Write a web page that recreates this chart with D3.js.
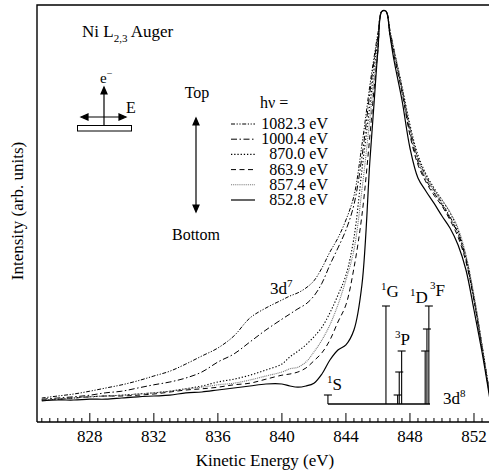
<!DOCTYPE html>
<html>
<head>
<meta charset="utf-8">
<script src="https://cdn.jsdelivr.net/npm/d3@7"></script>
<style>
body{margin:0;background:#fff;}
svg text{font-family:"Liberation Serif","Times New Roman",serif;fill:#000;}
</style>
</head>
<body>
<div id="chart"></div>
<script>
// kinetic energy grid (eV)
var energy = [825, 826, 827, 828, 829, 830, 831, 832, 833, 834, 835, 836, 837, 838, 839, 840,
  840.5, 841, 841.5, 842, 842.5, 843, 843.5, 844, 844.5, 845, 845.5, 845.75, 846, 846.25, 846.5, 846.75,
  847, 847.5, 848, 848.5, 849, 849.5, 850, 850.5, 851, 851.5, 852, 852.5, 853];

// intensity (arb. units), one array per photon energy
var hv1082 = [1.5, 2, 2.5, 3.2, 4, 4.8, 5.8, 7, 8.2, 10, 12, 14, 17, 21.5, 24, 26,
  27, 27.8, 29, 30.8, 34, 38, 41.5, 46, 52, 64.8, 79.8, 86.5, 92.8, 98.2, 98.2, 93.5,
  88.5, 79, 69, 61.5, 57, 53.5, 50.2, 46.8, 42.8, 36.5, 26.5, 14.5, 2];
var hv1000 = [1.2, 1.5, 1.8, 2.2, 2.8, 3.2, 4, 4.8, 5.5, 6.5, 8, 10.5, 12.5, 15.5, 18.5, 21.2,
  22.5, 23.8, 25, 27, 30.2, 34.8, 39, 43.5, 49.8, 61.8, 78, 85.5, 92, 98.2, 98.2, 93,
  88, 78.5, 68, 60.5, 56, 52.8, 49.8, 46.5, 42.5, 36, 26, 14.2, 1.8];
var hv870 = [1, 1.2, 1.5, 1.8, 2, 2.2, 2.5, 2.8, 3.2, 3.8, 4.5, 5.5, 6.2, 7.2, 8.5, 10,
  11.8, 13.2, 14.8, 16.8, 19.2, 22.8, 27.2, 32.2, 41.5, 58.5, 74.8, 83.5, 91, 98.2, 98.2, 92.8,
  88.5, 79.5, 69.8, 62.2, 57.5, 54, 51, 47.8, 43.5, 36.8, 26.8, 14.8, 2];
var hv863 = [1, 1.2, 1.5, 1.8, 2, 2, 2.2, 2.5, 3, 3.5, 3.8, 4.2, 4.8, 5.2, 6.2, 7.2,
  7.5, 8, 9, 10.8, 12.8, 16, 20.5, 24.8, 34, 47.2, 67.2, 78.5, 88.5, 98.2, 98.2, 92.2,
  87.2, 78, 67.2, 59.8, 55.5, 52.2, 49.5, 46, 41.8, 35.5, 26, 14, 1.5];
var hv857 = [1, 1.2, 1.5, 1.8, 2, 2.2, 2.5, 2.8, 3.2, 3.8, 4.2, 4.8, 5.2, 6, 7, 8,
  8.8, 9.2, 10.5, 13, 16, 19.8, 24.8, 31, 38.5, 53.5, 71.5, 81, 89.8, 98.2, 98.2, 92.5,
  88.5, 79, 69, 61, 56.5, 53.5, 51, 48, 44, 37.2, 27.2, 14.8, 2.2];
var hv852 = [0.8, 1, 1, 1.2, 1.2, 1.5, 1.8, 2, 2.2, 2.8, 3, 3.5, 4, 4.5, 5, 5,
  4.5, 4.2, 4.5, 5.2, 7.5, 11, 13.5, 14.8, 18.5, 29.8, 61, 74.8, 88.5, 98.2, 98.2, 92.2,
  86, 76, 64, 56.5, 53.2, 50.2, 47, 44, 39.8, 33.5, 23.5, 13, 1];

var seriesLabels = ["1082.3 eV", "1000.4 eV", "870.0 eV", "863.9 eV", "857.4 eV", "852.8 eV"];
var seriesValues = [hv1082, hv1000, hv870, hv863, hv857, hv852];
var xTicks = [828, 832, 836, 840, 844, 848, 852];

// 3d8 multiplet diagram: line energies and relative heights
var termEnergy = [842.875, 846.5, 847.23, 847.33, 847.48, 848.95, 849.06, 849.18];
var termHeight = [2.25, 24.5, 2.25, 8, 13.25, 13.25, 18.75, 24.5];
var termBase = [842.875, 849.25];
var termLabels = [
  {sup:"1", main:"S", e:842.81, v:3.5},
  {sup:"1", main:"G", e:846.19, v:26.8},
  {sup:"3", main:"P", e:847.06, v:14.8},
  {sup:"1", main:"D", e:848.0, v:25.3},
  {sup:"3", main:"F", e:849.25, v:27}
];

var width = 489, height = 473;
var mL = 37, mT = 5, mB = 422, mR = 490;
var styles = [
  {dash:"4,1.6,1.2,1.6,1.2,1.6", color:"#000", w:1},
  {dash:"6,2.5,1.5,2.5", color:"#000", w:1},
  {dash:"1.3,1.9", color:"#000", w:1.1},
  {dash:"5,3.5", color:"#000", w:1},
  {dash:"1,0.9", color:"#777", w:1.1},
  {dash:null, color:"#000", w:1.2}
];

var svg = d3.select("#chart").append("svg")
  .attr("width", width)
  .attr("height", height);

var x = d3.scaleLinear().domain([824.7, 853]).range([mL, mR]);
var y = d3.scaleLinear().domain([-4.5, 99.75]).range([mB, mT]);

svg.append("defs").append("clipPath").attr("id", "plotclip")
  .append("rect").attr("x", mL).attr("y", mT).attr("width", mR - mL).attr("height", mB - mT);

// curves
var line = d3.line()
  .x(function(d){ return x(d[0]); })
  .y(function(d){ return y(d[1]); })
  .curve(d3.curveCatmullRom.alpha(0.5));

var curves = svg.append("g").attr("clip-path", "url(#plotclip)");
seriesValues.forEach(function(vals, i){
  var pts = energy.map(function(e, j){ return [e, vals[j]]; });
  curves.append("path")
    .attr("d", line(pts))
    .attr("fill", "none")
    .attr("stroke", styles[i].color)
    .attr("stroke-width", styles[i].w)
    .attr("stroke-dasharray", styles[i].dash);
});

// multiplet stick diagram
var terms = svg.append("g").attr("stroke", "#000").attr("fill", "none");
terms.append("line")
  .attr("x1", x(termBase[0])).attr("x2", x(termBase[1]))
  .attr("y1", y(0)).attr("y2", y(0))
  .attr("stroke-width", 1.6);
termEnergy.forEach(function(e, i){
  terms.append("line")
    .attr("x1", x(e)).attr("x2", x(e))
    .attr("y1", y(0)).attr("y2", y(termHeight[i]))
    .attr("stroke-width", 1.1);
  terms.append("line")
    .attr("x1", x(e) - 4).attr("x2", x(e) + 4)
    .attr("y1", y(termHeight[i])).attr("y2", y(termHeight[i]))
    .attr("stroke-width", 1.1);
});

function supText(g, xx, yy, pre, main, post, size){
  var t = g.append("text").attr("x", xx).attr("y", yy).style("font-size", size + "px");
  if(pre){
    t.append("tspan").text(pre).style("font-size", "11px").attr("dy", -7);
    t.append("tspan").text(main).attr("dy", 7);
  } else {
    t.append("tspan").text(main);
    t.append("tspan").text(post).style("font-size", "11px").attr("dy", -7);
  }
  return t;
}

termLabels.forEach(function(d){
  supText(svg, x(d.e), y(d.v), d.sup, d.main, null, 17);
});
supText(svg, x(850.06), y(0), null, "3d", "8", 17);
supText(svg, x(839.25), y(27.5), null, "3d", "7", 17);

// frame
svg.append("path")
  .attr("d", "M" + mL + "," + mB + "V" + mT + "H" + mR + "M" + mL + "," + mB + "H" + mR)
  .attr("fill", "none").attr("stroke", "#000").attr("stroke-width", 1.4);

// ticks (inside)
var minor = d3.range(825, 853.01, 0.5);
svg.append("g").selectAll("line").data(minor).enter().append("line")
  .attr("x1", d=>x(d)).attr("x2", d=>x(d))
  .attr("y1", mB).attr("y2", d=>(xTicks.indexOf(d) >= 0 ? mB - 9 : mB - 4))
  .attr("stroke", "#000").attr("stroke-width", 1);

svg.append("g").selectAll("text").data(xTicks).enter().append("text")
  .attr("x", d=>x(d)).attr("y", 442)
  .attr("text-anchor", "middle")
  .style("font-size", "17px")
  .text(d=>d);

svg.append("text").attr("x", 265).attr("y", 466)
  .attr("text-anchor", "middle").style("font-size", "17px")
  .text("Kinetic Energy (eV)");

svg.append("text")
  .attr("transform", "translate(23,211) rotate(-90)")
  .attr("text-anchor", "middle").style("font-size", "17px")
  .text("Intensity (arb. units)");

// title
var title = svg.append("text").attr("x", 82).attr("y", 37).style("font-size", "17px");
title.append("tspan").text("Ni L");
title.append("tspan").text("2,3").style("font-size", "11px").attr("dy", 5);
title.append("tspan").text(" Auger").attr("dy", -5);

// arrow helper
function head(g, xx, yy, dir){
  var L = 7, W = 3, p;
  if(dir == "up") p = [[xx, yy], [xx - W, yy + L], [xx + W, yy + L]];
  if(dir == "down") p = [[xx, yy], [xx - W, yy - L], [xx + W, yy - L]];
  if(dir == "left") p = [[xx, yy], [xx + L, yy - W], [xx + L, yy + W]];
  if(dir == "right") p = [[xx, yy], [xx - L, yy - W], [xx - L, yy + W]];
  g.append("path").attr("d", "M" + p.join("L") + "Z").attr("fill", "#000");
}

// sample geometry sketch
var sk = svg.append("g").attr("stroke", "#000").attr("stroke-width", 1.2);
sk.append("line").attr("x1", 104).attr("x2", 104).attr("y1", 125).attr("y2", 92);
head(sk, 104, 87, "up");
sk.append("line").attr("x1", 86).attr("x2", 121).attr("y1", 117).attr("y2", 117);
head(sk, 81, 117, "left");
head(sk, 126, 117, "right");
sk.append("rect").attr("x", 77.5).attr("y", 125.5).attr("width", 54).attr("height", 5.5)
  .attr("fill", "#fff").attr("stroke-width", 1);
var el = svg.append("text").attr("x", 100).attr("y", 83).style("font-size", "15px");
el.append("tspan").text("e");
el.append("tspan").text("\u2212").style("font-size", "10px").attr("dy", -6);
svg.append("text").attr("x", 126).attr("y", 113).style("font-size", "16px").text("E");

// top / bottom order arrow
svg.append("text").attr("x", 197).attr("y", 98).attr("text-anchor", "middle").style("font-size", "16px").text("Top");
svg.append("text").attr("x", 196).attr("y", 240).attr("text-anchor", "middle").style("font-size", "16px").text("Bottom");
var ar = svg.append("g").attr("stroke", "#000").attr("stroke-width", 1.2);
ar.append("line").attr("x1", 196).attr("x2", 196).attr("y1", 123).attr("y2", 207);
head(ar, 196, 118, "up");
head(ar, 196, 212, "down");

// legend
svg.append("text").attr("x", 260).attr("y", 108).style("font-size", "16px").text("h\u03bd =");
var leg = svg.append("g").selectAll("g").data(seriesLabels).enter().append("g")
  .attr("transform", (d, i)=>"translate(0," + (124 + i * 15.2) + ")");
leg.append("line")
  .attr("x1", 231).attr("x2", 255).attr("y1", 0).attr("y2", 0)
  .attr("stroke", (d, i)=>styles[i].color)
  .attr("stroke-width", (d, i)=>styles[i].w)
  .attr("stroke-dasharray", (d, i)=>styles[i].dash);
leg.append("text")
  .attr("x", 328).attr("y", 5)
  .attr("text-anchor", "end")
  .style("font-size", "16px")
  .text(d=>d);
</script>
</body>
</html>
